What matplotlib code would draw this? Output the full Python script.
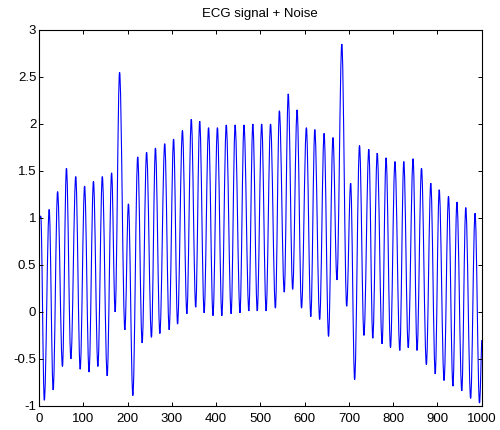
import matplotlib
matplotlib.use("Agg")
import matplotlib.pyplot as plt
from matplotlib.path import Path
from matplotlib.patches import PathPatch
from matplotlib.ticker import FixedLocator, FuncFormatter

plt.rcParams['font.family'] = ['Liberation Sans', 'DejaVu Sans']
plt.rcParams['axes.unicode_minus'] = False

# Signal endpoints
start_x, start_y = [0], [0.98]
end_x, end_y = [1000], [-0.30]

# Local maxima (sample index, amplitude)
peak_x = [4, 23, 42, 62, 83, 103, 123, 143, 164, 182, 202, 223, 243, 263, 284,
          304, 324, 344, 363, 383, 403, 423, 443, 463, 483, 503, 523, 543, 563,
          583, 604, 623, 644, 664, 684, 704, 724, 745, 764, 784, 804, 824, 845,
          864, 885, 904, 925, 944, 964, 985]
peak_y = [1.02, 1.09, 1.28, 1.53, 1.44, 1.34, 1.39, 1.44, 1.48, 2.55, 1.15, 1.65,
          1.70, 1.745, 1.79, 1.84, 1.93, 2.05, 2.03, 1.96, 1.96, 1.99, 1.99, 1.99,
          2.00, 2.00, 2.00, 2.14, 2.32, 2.15, 1.96, 1.94, 1.90, 1.855, 2.85, 1.37,
          1.77, 1.73, 1.69, 1.64, 1.60, 1.60, 1.63, 1.53, 1.37, 1.30, 1.23, 1.17,
          1.11, 1.05]

# Local minima (sample index, amplitude)
trough_x = [12, 32, 53, 72, 93, 113, 133, 154, 172, 194, 212, 233, 254, 273,
            294, 313, 334, 354, 373, 393, 413, 434, 454, 474, 493, 513, 534, 554,
            573, 593, 614, 634, 654, 673, 695, 713, 734, 754, 775, 794, 815,
            834, 854, 875, 895, 915, 935, 955, 975, 995]
trough_y = [-0.94, -0.83, -0.58, -0.50, -0.61, -0.64, -0.58, -0.68, 0.0,
            -0.19, -0.89, -0.33, -0.27, -0.23, -0.19, -0.13, -0.02, 0.05, -0.01,
            -0.04, -0.04, -0.02, -0.01, 0.01, 0.01, 0.01, 0.04, 0.21, 0.24, 0.04,
            -0.05, -0.08, -0.26, 0.34, 0.06, -0.72, -0.25, -0.28, -0.34,
            -0.38, -0.41, -0.38, -0.41, -0.56, -0.66, -0.73, -0.79, -0.84, -0.92,
            -0.97]

x_ticks = [0, 100, 200, 300, 400, 500, 600, 700, 800, 900, 1000]
y_ticks = [-1, -0.5, 0, 0.5, 1, 1.5, 2, 2.5, 3]
title = "ECG signal + Noise"

pts = sorted(zip(start_x + peak_x + trough_x + end_x,
                 start_y + peak_y + trough_y + end_y))

# Smooth rendering between extrema: cubic Bezier segments with horizontal
# tangents at each extremum (line drawn by matplotlib's path renderer).
verts = [pts[0]]
codes = [Path.MOVETO]
k = 0.36
n = len(pts)
for i in range(1, n):
    (x0, y0), (x1, y1) = pts[i - 1], pts[i]
    d = x1 - x0
    c1 = (x0 + k * d, y0) if i > 1 else (x0 + k * d, y0 + k * (y1 - y0))
    c2 = (x1 - k * d, y1) if i < n - 1 else (x1 - k * d, y1 - k * (y1 - y0))
    verts += [c1, c2, (x1, y1)]
    codes += [Path.CURVE4] * 3

fig = plt.figure(figsize=(5.0, 4.3), dpi=100)
ax = fig.add_axes([0.078, 0.056, 0.8854, 0.8744])
ax.add_patch(PathPatch(Path(verts, codes), fill=False, edgecolor='#0000ff',
                       linewidth=0.8))
ax.set_xlim(0, 1000)
ax.set_ylim(-1, 3)
ax.xaxis.set_major_locator(FixedLocator(x_ticks))
ax.yaxis.set_major_locator(FixedLocator(y_ticks))
fmt = FuncFormatter(lambda v, p: '%g' % v)
ax.xaxis.set_major_formatter(fmt)
ax.yaxis.set_major_formatter(fmt)
ax.tick_params(direction='in', length=3, width=0.7, labelsize=9.5,
               top=True, right=True, pad=2)
ax.tick_params(axis='x', pad=5)
for s in ax.spines.values():
    s.set_linewidth(0.8)
ax.set_title(title, fontsize=9.5, pad=9)
fig.savefig("out.png", dpi=100, facecolor='white')
